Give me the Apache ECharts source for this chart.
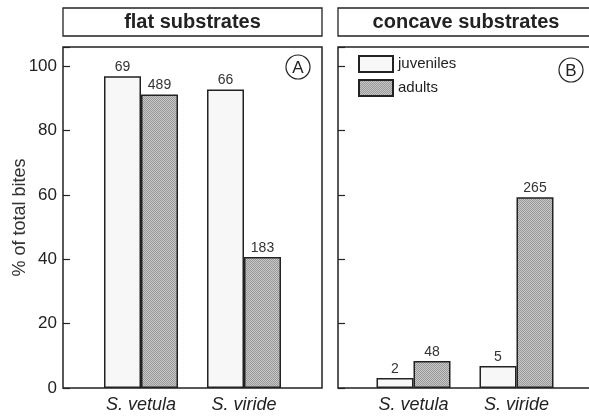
<!DOCTYPE html>
<html>
<head>
<meta charset="utf-8">
<script src="https://cdn.jsdelivr.net/npm/echarts@6/dist/echarts.min.js"></script>
<style>
html,body{margin:0;padding:0;background:#fff;}
#chart{width:589px;height:418px;}
</style>
</head>
<body>
<div id="chart"></div>
<script>
// ---- data ----
const categories = ['S. vetula', 'S. viride'];
const panelTitles = ['flat substrates', 'concave substrates'];
const panelLetters = ['A', 'B'];
const seriesNames = ['juveniles', 'adults'];
const flatJuveniles = [96.9, 92.8];
const flatAdults = [91.2, 40.7];
const concaveJuveniles = [3.1, 6.8];
const concaveAdults = [8.4, 59.3];
const flatJuvenileN = [69, 66];
const flatAdultN = [489, 183];
const concaveJuvenileN = [2, 5];
const concaveAdultN = [48, 265];
const yTickValues = [0, 20, 40, 60, 80, 100];
const yAxisName = '% of total bites';

// ---- styles ----
const FONT = '"Liberation Sans", Arial, Helvetica, sans-serif';
const INK = '#222';

function makePattern() {
  const c = document.createElement('canvas');
  c.width = 2; c.height = 2;
  const g = c.getContext('2d');
  g.fillStyle = '#c8c8c8'; g.fillRect(0, 0, 2, 2);
  g.fillStyle = '#989898'; g.fillRect(0, 0, 1, 1); g.fillRect(1, 1, 1, 1);
  return c;
}
const adultFill = { image: makePattern(), repeat: 'repeat' };
const juvenileFill = '#f7f7f7';

const chart = echarts.init(document.getElementById('chart'), null, { renderer: 'canvas' });

function yAxisFor(gi, offset, showLabels) {
  return {
    type: 'value', gridIndex: gi, min: 0, max: 106, interval: 20, offset: offset,
    axisLine: { show: false },
    axisTick: { show: true, inside: true, length: 7, lineStyle: { color: INK, width: 1.2 } },
    axisLabel: {
      show: showLabels, color: INK, fontSize: 17, fontFamily: FONT, margin: 6,
      formatter: v => yTickValues.indexOf(v) >= 0 ? String(v) : ''
    },
    splitLine: { show: false },
    name: showLabels ? yAxisName : '',
    nameLocation: 'middle', nameGap: 34, nameRotate: 90, nameMoveOverlap: false,
    nameTextStyle: { color: '#333', fontSize: 18, fontFamily: FONT }
  };
}
function xAxisFor(gi) {
  return {
    type: 'category', gridIndex: gi, data: categories,
    axisLine: { show: false }, axisTick: { show: false },
    axisLabel: { color: INK, fontSize: 18, fontStyle: 'italic', fontFamily: FONT, margin: 8 }
  };
}
function barSeries(name, gi, values, counts, fill) {
  return {
    type: 'bar', name: name, xAxisIndex: gi, yAxisIndex: gi, data: values,
    barWidth: 37, barGap: '0%',
    itemStyle: { color: fill, borderColor: INK, borderWidth: 1.5 },
    label: {
      show: true, position: 'top', distance: 2, color: '#333', fontSize: 14, fontFamily: FONT,
      formatter: p => String(counts[p.dataIndex])
    },
    emphasis: { disabled: true }
  };
}

function titleBox(x, w, text) {
  return [
    { type: 'rect', shape: { x: x, y: 8, width: w, height: 28 },
      style: { fill: '#fff', stroke: INK, lineWidth: 1.3 }, z: 1 },
    { type: 'text', x: x + w / 2, y: 22,
      style: { text: text, fill: INK, font: 'bold 20px ' + FONT, align: 'center', verticalAlign: 'middle' }, z: 2 }
  ];
}
function letterCircle(cx, cy, t) {
  return [
    { type: 'circle', shape: { cx: cx, cy: cy, r: 12 }, style: { fill: '#fff', stroke: INK, lineWidth: 1.2 }, z: 5 },
    { type: 'text', x: cx, y: cy + 1,
      style: { text: t, fill: INK, font: '17px ' + FONT, align: 'center', verticalAlign: 'middle' }, z: 6 }
  ];
}

const graphics = [].concat(
  [
    { type: 'rect', shape: { x: 63, y: 47, width: 259, height: 341 },
      style: { fill: 'none', stroke: INK, lineWidth: 1.5 }, z: 0 },
    { type: 'rect', shape: { x: 338, y: 47, width: 260, height: 341 },
      style: { fill: 'none', stroke: INK, lineWidth: 1.5 }, z: 0 }
  ],
  titleBox(63, 259, panelTitles[0]),
  titleBox(338, 256, panelTitles[1]),
  letterCircle(298, 67, panelLetters[0]),
  letterCircle(571, 70, panelLetters[1])
);

chart.setOption({
  animation: false,
  backgroundColor: '#fff',
  textStyle: { fontFamily: FONT },
  grid: [
    { left: 89.5, width: 206, top: 47, height: 341 },
    { left: 362, width: 206, top: 47, height: 341 }
  ],
  xAxis: [xAxisFor(0), xAxisFor(1)],
  yAxis: [yAxisFor(0, 26.5, true), yAxisFor(1, 24, false)],
  legend: {
    data: seriesNames.map(n => ({ name: n, icon: 'rect' })), orient: 'vertical', left: 358, top: 55,
    itemWidth: 34, itemHeight: 16, itemGap: 6, selectedMode: false,
    textStyle: { color: INK, fontSize: 15, fontFamily: FONT }, padding: 0
  },
  series: [
    barSeries(seriesNames[0], 0, flatJuveniles, flatJuvenileN, juvenileFill),
    barSeries(seriesNames[1], 0, flatAdults, flatAdultN, adultFill),
    barSeries(seriesNames[0], 1, concaveJuveniles, concaveJuvenileN, juvenileFill),
    barSeries(seriesNames[1], 1, concaveAdults, concaveAdultN, adultFill)
  ],
  graphic: graphics
});
</script>
</body>
</html>
